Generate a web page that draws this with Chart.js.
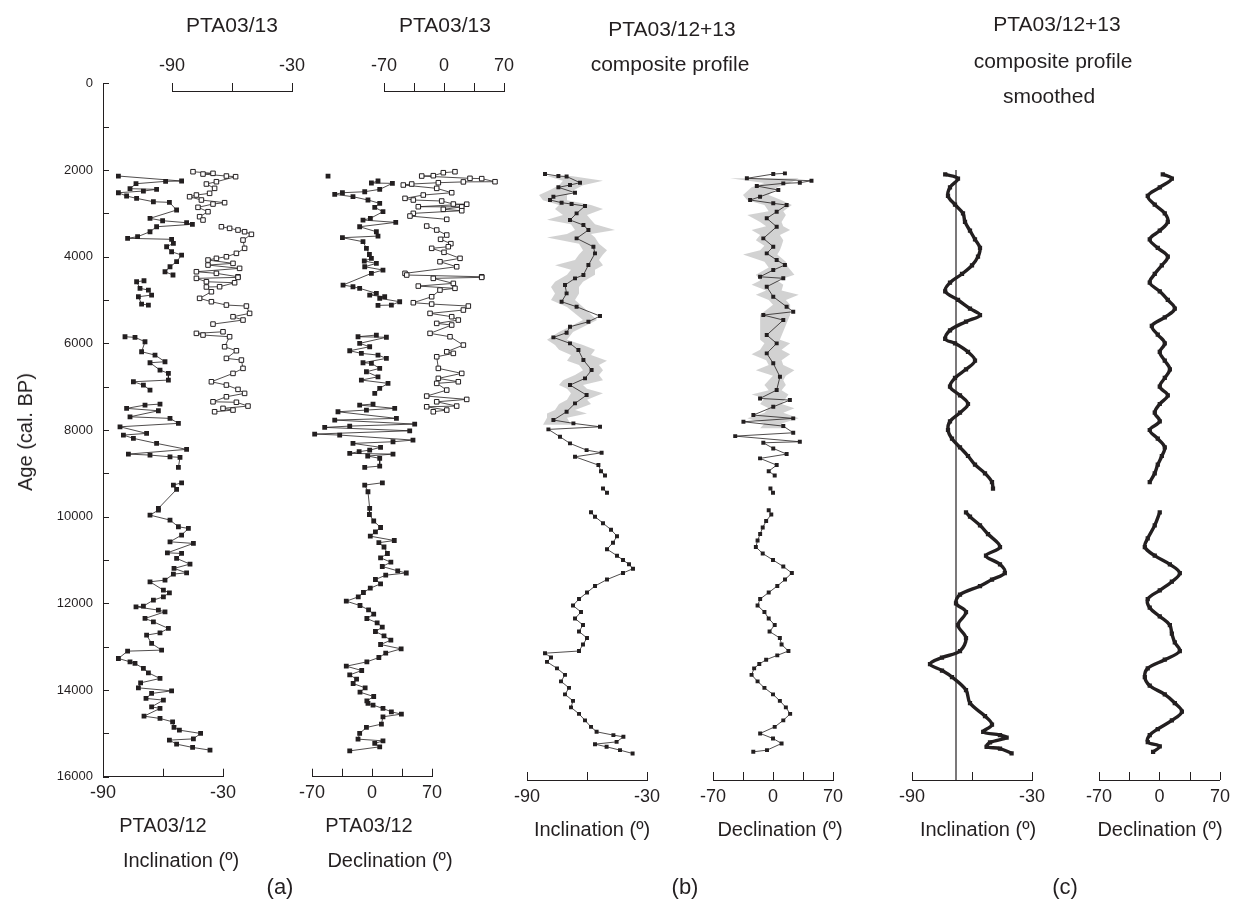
<!DOCTYPE html>
<html>
<head>
<meta charset="utf-8">
<script src="https://cdn.jsdelivr.net/npm/chart.js@4.4.1/dist/chart.umd.min.js"></script>
<style>
body { margin: 0; background: #fff; width: 1236px; height: 903px; position: relative; overflow: hidden;
       font-family: "Liberation Sans", Arial, sans-serif; color: #231f20; }
canvas { position: absolute; left: 0; top: 0; }
.lbl { position: absolute; transform: translate(-50%, -50%); white-space: nowrap; font-size: 20px; line-height: 1; }
.hd { font-size: 21px; }
.pl { font-size: 22px; }
</style>
</head>
<body>
<canvas id="aInc12" width="1236" height="903"></canvas>
<canvas id="aInc13" width="1236" height="903"></canvas>
<canvas id="aDec12" width="1236" height="903"></canvas>
<canvas id="aDec13" width="1236" height="903"></canvas>
<canvas id="bInc" width="1236" height="903"></canvas>
<canvas id="bDec" width="1236" height="903"></canvas>
<canvas id="cInc" width="1236" height="903"></canvas>
<canvas id="cDec" width="1236" height="903"></canvas>

<div class="lbl" style="left:25px;top:432px;transform:translate(-50%,-50%) rotate(-90deg)">Age (cal. BP)</div>
<div class="lbl hd" style="left:232px;top:24px">PTA03/13</div>
<div class="lbl hd" style="left:445px;top:24px">PTA03/13</div>
<div class="lbl hd" style="left:672px;top:28px">PTA03/12+13</div>
<div class="lbl hd" style="left:670px;top:63px">composite profile</div>
<div class="lbl hd" style="left:1057px;top:23px">PTA03/12+13</div>
<div class="lbl hd" style="left:1053px;top:60px">composite profile</div>
<div class="lbl hd" style="left:1049px;top:95px">smoothed</div>
<div class="lbl" style="left:163px;top:825px">PTA03/12</div>
<div class="lbl" style="left:181px;top:860px">Inclination (º)</div>
<div class="lbl" style="left:369px;top:825px">PTA03/12</div>
<div class="lbl" style="left:390px;top:860px">Declination (º)</div>
<div class="lbl" style="left:592px;top:829px">Inclination (º)</div>
<div class="lbl" style="left:780px;top:829px">Declination (º)</div>
<div class="lbl" style="left:978px;top:829px">Inclination (º)</div>
<div class="lbl" style="left:1160px;top:829px">Declination (º)</div>
<div class="lbl pl" style="left:280px;top:887px">(a)</div>
<div class="lbl pl" style="left:685px;top:887px">(b)</div>
<div class="lbl pl" style="left:1065px;top:887px">(c)</div>

<script>
// [age cal. BP, value]  -- null value = gap in the record
const a12Inc = [[2140,-82.3],[2255,-50.7],[2262,-58.7],[2317,-73.5],[2432,-76.5],[2447,-63.2],[2486,-69.8],[2525,-82.3],
  [2601,-78.2],[2655,-73.2],[2733,-64.8],[2747,-56.8],[2924,-53.2],[3116,-66.5],[3171,-60.2],[3217,-48.2],[3254,-45.3],
  [3310,-63.2],[3425,-66.5],[3540,-72.7],[3577,-77.7],[3600,-55.7],[3693,-54.8],[3771,-58.2],[3887,-55.7],[3963,-50.7],
  [4117,-53.2],[4233,-56.5],[4348,-59],[4424,-55],[4490,null],[4556,-69.5],[4579,-73.2],[4731,-71.5],[4771,-67.3],
  [4886,-65.7],[4925,-72.3],[5094,-70.7],[5117,-67.3],[5500,null],[5848,-79],[5862,-74],[5963,-69],[6194,-70.7],
  [6271,-64],[6425,-59],[6448,-66.5],[6617,-61.5],[6694,-57.3],[6848,-57.3],[6887,-74.8],[6963,-69.8],[7079,-66.5],
  [7250,null],[7402,-61.5],[7425,-69],[7501,-78.2],[7556,-62.3],[7695,-76.5],[7732,-56.5],[7847,-52.3],[7926,-81.5],
  [8078,-68.2],[8117,-79.8],[8193,-74.8],[8309,-63.2],[8447,-48.2],[8556,-77.3],[8579,-66.5],[8618,-56.5],[8630,-51.5],
  [8863,-52.3],[9050,null],[9218,-50.7],[9271,-54.8],[9371,-53.2],[9809,-62.3],[9848,-62.3],[9964,-66.5],[10079,-56.5],
  [10233,-52.3],[10271,-47.3],[10425,-50.7],[10580,-56.5],[10617,-44.8],[10834,-57.8],[10848,-50.7],[10963,-53.2],
  [11094,-46.5],[11194,-54.5],[11295,-48.2],[11325,-54.8],[11464,-59],[11503,-66.5],[11695,-59.8],[11757,-56.8],
  [11849,-59.8],[11925,-64.8],[12064,-69.8],[12080,-73.5],[12156,-62.3],[12195,-59],[12348,-69],[12426,-64.8],
  [12579,-57.3],[12680,-61.5],[12733,-68.2],[12925,-65.7],[13079,-60.7],[13103,-77.7],[13272,-82.3],[13349,-76.5],
  [13387,-74],[13502,-69.8],[13603,-67.3],[13733,-61.5],[13834,-71.2],[13950,-72.3],[14019,-55.7],[14079,-65.7],
  [14194,-68.5],[14233,-59.8],[14388,-65.7],[14425,-61.5],[14603,-69.5],[14656,-61.5],[14734,-55.2],[14863,-54.5],
  [14926,-51.8],[15002,-41.2],[15127,-44.8],[15156,-56.8],[15249,-53.2],[15325,-45.2],[15387,-36.5]];

const a13Inc = [[2040,-79.5],[2078,-69.5],[2094,-74.5],[2140,-62.8],[2155,-58.2],[2271,-67.8],[2324,-72.8],[2424,-68.7],
  [2539,-71.2],[2578,-77.8],[2617,-81.2],[2693,-75.3],[2755,-63.7],[2786,-69.5],[2862,-77],[2963,-72],[3078,-76.2],
  [3155,-74.5],[3230,null],[3310,-65.3],[3347,-61.2],[3386,-57],[3425,-53.7],[3485,-50.3],[3617,-54.5],[3808,-53.7],
  [3924,-57.8],[4002,-62.8],[4039,-67.8],[4078,-72],[4155,-59.5],[4194,-72],[4270,-56.2],[4348,-77.8],[4385,-67.8],
  [4464,-57],[4478,-57],[4501,-77.8],[4579,-72.8],[4602,-58.7],[4694,-66.2],[4700,-72.8],[4810,-70.3],[4962,-76.2],
  [5040,-70.3],[5117,-62.8],[5140,-52.8],[5309,-51.2],[5386,-59.5],[5463,-54.5],[5556,-69.5],[5650,null],[5733,-64.5],
  [5770,-77.8],[5809,-74.5],[5848,-61.2],[6079,-63.7],[6171,-57.8],[6347,-62.8],[6386,-55.3],[6578,-54.5],[6694,-59.5],
  [6887,-70.3],[6963,-62.8],[7063,-57],[7155,-53.7],[7233,-62.8],[7349,-69.5],[7360,-57.8],[7448,-52],[7501,-64.5],
  [7540,-59.5],[7579,-68.7]];

const a12Dec = [[2140,-51.3],[2190,null],[2255,7],[2300,-0.7],[2309,23.8],[2447,9],[2502,-8.5],[2525,-34.5],[2562,-43.5],
  [2617,-22.2],[2693,-4.7],[2770,9],[2862,3.2],[2963,12.8],[3116,-1.9],[3155,-10.5],[3209,27.7],[3310,-14.4],[3425,5.1],
  [3525,7],[3563,-34.5],[3655,-10.5],[3808,-6.5],[3950,-3],[4039,-0.7],[4100,-9],[4155,5.1],[4233,-8.5],[4309,12.8],
  [4385,-0.7],[4655,-33.8],[4694,-22.2],[4731,-14.4],[4847,5.1],[4886,-2.7],[4925,14.8],[4962,9],[5040,32.3],
  [5117,22.6],[5125,7],[5450,null],[5809,5.1],[5848,-16.3],[5860,16.8],[6001,-14.4],[6079,-2.7],[6171,-26],[6232,-12.4],
  [6271,7],[6347,16.8],[6448,-10.5],[6462,-0.7],[6578,9],[6656,-6.5],[6772,7],[6848,-12.4],[6924,18.7],[7039,9],
  [7155,3.2],[7280,null],[7402,1.2],[7425,-14.4],[7501,26.5],[7540,-6.5],[7579,-39.7],[7732,28.5],[7771,-43.5],
  [7863,49.8],[7910,-26],[7940,-55.2],[8018,44],[8094,-66.9],[8117,-37.7],[8233,47.8],[8271,24.5],[8309,-22.2],
  [8400,10],[8464,-2.7],[8500,-15],[8540,-26],[8556,24.5],[8600,-5],[8655,9],[8833,9],[8863,-8.5],[9050,null],
  [9218,12.1],[9271,-8.5],[9425,-4.7],[9809,-2.7],[9950,-3],[10100,2],[10250,10],[10350,4],[10450,-2],[10550,26],
  [10600,8],[10700,14],[10850,18],[10950,10],[11050,22],[11150,12],[11250,30],[11300,40],[11350,16],[11450,4],
  [11550,10],[11650,-2],[11750,-10],[11850,-16],[11950,-30],[12050,-14],[12150,-4],[12250,2],[12350,-6],[12450,6],
  [12550,12],[12650,4],[12750,14],[12850,22],[12950,10],[13050,34],[13150,16],[13250,8],[13350,-6],[13450,-30],
  [13550,-12],[13650,-26],[13750,-18],[13850,-22],[13950,-8],[14050,-14],[14150,2],[14250,-6],[14309,-4.7],[14348,1.2],
  [14425,12.8],[14503,22.6],[14556,34.3],[14618,12.8],[14787,11],[14864,-6.5],[15002,-14.4],[15133,-16.3],[15173,12.8],
  [15233,3.2],[15311,9],[15404,-26]];

const a13Dec = [[2040,12.8],[2063,-0.8],[2132,-12.5],[2140,-26],[2193,30.3],[2200,44],[2271,59.5],[2275,22.6],[2294,-6.6],
  [2324,-37.7],[2347,-47.5],[2424,-8.5],[2525,9],[2578,-24.2],[2655,-45.5],[2693,-35.8],[2716,-2.7],[2786,10.9],
  [2790,26.5],[2848,-30],[2852,20.7],[2908,-0.8],[2940,20.7],[3001,-35.8],[3063,-39.7],[3139,3.2],[3220,null],
  [3294,-20.2],[3386,-8.5],[3501,3.2],[3600,-4],[3700,8],[3771,5],[3808,-14.4],[3900,0],[4039,18.7],[4117,-4.7],
  [4233,14.8],[4385,-45.5],[4424,-43.5],[4464,44],[4478,44],[4501,-12.5],[4617,10.9],[4679,-30],[4731,12.8],
  [4771,-4.7],[4925,-14.4],[5063,-35.8],[5094,-14.4],[5140,28.4],[5232,22.6],[5309,-16.3],[5386,9],[5463,16.7],
  [5540,-8.5],[5578,9],[5770,-16.3],[5848,7],[6040,22.6],[6194,3.2],[6232,10.9],[6310,-8.5],[6578,-6.6],[6694,20.7],
  [6809,-6.6],[6887,16.7],[6924,-8.5],[7079,3.2],[7217,-20.2],[7294,26.5],[7349,-8.5],[7448,14.8],[7464,-20.2],
  [7540,3.2],[7579,-12.5]];

const compInc = [[2094,-81],[2140,-74.3],[2150,-70.2],[2294,-63.5],[2347,-68.5],[2401,-74.3],[2525,-66],[2617,-76.8],
  [2693,-78.5],[2755,-72.7],[2786,-67.7],[2832,-61],[3001,-65.2],[3155,-68.5],[3271,-61.8],[3386,-59.3],[3578,-65.2],
  [3771,-56.8],[3924,-56],[4194,-59.3],[4424,-61.8],[4501,-66],[4655,-71],[4847,-70.2],[5040,-72.7],[5156,-65.2],
  [5371,-53.5],[5502,-59.3],[5617,-68.5],[5756,-70.2],[5863,-76.8],[6001,-68.5],[6156,-64.3],[6386,-61.8],[6617,-57.7],
  [6809,-61],[6963,-68.5],[7194,-60.2],[7386,-66],[7579,-70.2],[7771,-76.8],[7847,-66.8],[7926,-53.5],[7986,-79.3],
  [8156,-73.5],[8309,-68.5],[8464,-60.2],[8526,-52.7],[8618,-66],[8810,-54.3],[8950,-53],[9050,-51],[9200,null],
  [9350,-52],[9450,-50],[9650,null],[9900,-58],[10000,-56],[10150,-52],[10300,-48],[10450,-45],[10600,-47],[10750,-50],
  [10900,-45],[11000,-42],[11100,-39],[11200,-37],[11300,-42],[11450,-50],[11600,-56],[11750,-60],[11900,-64],
  [12050,-67],[12200,-63],[12350,-66],[12500,-62],[12650,-64],[12800,-60],[12950,-62],[13100,-64],[13150,-81],
  [13250,-78],[13350,-80],[13500,-75],[13650,-71],[13800,-73],[13950,-69],[14100,-71],[14250,-67],[14400,-68],
  [14550,-64],[14700,-61],[14850,-58],[14964,-55.2],[15041,-46.8],[15080,-41.8],[15196,-45.2],[15249,-56],
  [15311,-50.2],[15387,-43.5],[15464,-37.2]];

const compDec = [[2078,13.9],[2094,0.3],[2193,-30.5],[2248,44.9],[2294,31.3],[2309,12],[2370,-18.9],[2463,6.2],
  [2617,-15.1],[2693,-26.7],[2770,0.3],[2809,15.9],[2963,4.3],[3116,-7.3],[3310,4.3],[3578,-11.3],[3771,0.3],
  [3924,-7.3],[4078,4.3],[4194,13.9],[4309,0.3],[4464,-15.1],[4500,12],[4694,-7.3],[4925,0.3],[5156,15.9],
  [5271,23.6],[5348,-11.3],[5463,12],[5809,-7.3],[6001,4.3],[6232,-7.3],[6462,0.3],[6772,8.1],[7079,4.3],
  [7271,-15.1],[7310,19.7],[7464,0.3],[7656,-22.9],[7732,23.6],[7810,-34.5],[7910,12],[8064,23.6],[8141,-44.1],
  [8271,31.3],[8295,-11.3],[8425,0.3],[8556,15.9],[8655,-15.1],[8810,4.3],[8950,-5],[9050,2],[9200,null],[9350,-3],
  [9450,0],[9650,null],[9850,-5],[9950,-2],[10100,-8],[10250,-12],[10400,-15],[10550,-18],[10700,-20],[10850,-12],
  [11000,0],[11150,12],[11300,22],[11450,14],[11600,5],[11750,-5],[11900,-15],[12050,-18],[12200,-10],[12350,-5],
  [12500,2],[12650,-4],[12800,8],[12950,10],[13100,18],[13200,5],[13300,-8],[13400,-16],[13500,-22],[13650,-25],
  [13800,-18],[13950,-10],[14100,0],[14250,8],[14400,15],[14550,20],[14700,12],[14850,2],[15002,-15],[15118,0],
  [15233,10],[15387,-7],[15426,-23]];

// grey uncertainty envelope of the composite: [age, low, high]
const compIncBand = [[2140,-80,-68],[2250,-72,-52],[2350,-74,-62],[2450,-78,-66],[2580,-84,-70],[2700,-82,-70],
  [2810,-74,-58],[2900,-76,-52],[3040,-72,-60],[3150,-80,-58],[3250,-68,-56],[3385,-66,-46],[3480,-70,-58],
  [3560,-80,-56],[3700,-64,-54],[3850,-62,-50],[3950,-64,-52],[4080,-66,-54],[4200,-76,-52],[4300,-68,-56],
  [4420,-70,-56],[4580,-76,-62],[4700,-78,-64],[4850,-76,-64],[5000,-78,-66],[5160,-70,-62],[5460,-62,-55],
  [5740,-74,-67],[5920,-80,-70],[6040,-76,-62],[6150,-74,-56],[6270,-68,-58],[6400,-70,-50],[6500,-64,-54],
  [6620,-62,-52],[6730,-66,-54],[6850,-72,-52],[6960,-74,-62],[7050,-70,-60],[7150,-68,-52],[7300,-70,-60],
  [7400,-74,-58],[7540,-76,-66],[7620,-80,-60],[7720,-80,-70],[7880,-82,-68]];
const compDecBand = [[2190,-50,30],[2300,-10,20],[2400,-25,5],[2580,-35,-5],[2700,-30,10],[2810,-10,22],[2950,-5,12],
  [3040,-30,15],[3200,-15,10],[3300,-8,12],[3385,-25,20],[3500,-15,8],[3620,-20,12],[3750,-10,10],[3850,-15,8],
  [3950,-35,5],[4120,-10,15],[4250,-5,18],[4420,-20,25],[4550,-15,5],[4650,-25,12],[4780,-8,10],[4880,-20,30],
  [5000,-5,15],[5110,0,20],[5340,-15,20],[5920,-15,8],[6000,-10,20],[6150,-15,10],[6250,-25,20],[6390,-8,10],
  [6500,-5,12],[6620,-20,25],[6750,0,15],[6850,-5,12],[6960,-10,15],[7080,-5,10],[7180,-25,18],[7270,-10,15],
  [7400,-15,10],[7500,-5,25],[7600,-10,12],[7730,-30,30],[7850,-10,10],[7960,-15,15]];

const smInc = [[2100,-73.4],[2200,-67],[2400,-71],[2600,-72],[2800,-68.5],[3000,-64.5],[3200,-63.5],[3400,-61],
  [3600,-58.5],[3800,-56],[4000,-57],[4200,-60],[4400,-65],[4600,-71],[4800,-73.4],[5000,-67],[5200,-61],[5350,-56],
  [5500,-63],[5700,-71],[5900,-73.4],[6000,-68.5],[6200,-62],[6400,-58.5],[6600,-63],[6800,-68.5],[7000,-71],
  [7200,-66],[7400,-62],[7600,-66],[7800,-71],[8000,-72],[8200,-70],[8400,-66],[8600,-62],[8800,-58.5],[9000,-53.5],
  [9200,-50],[9350,-49.5],[9600,null],[9900,-63],[10000,-61],[10200,-56],[10400,-52],[10700,-46],[10900,-53],
  [11100,-46],[11300,-43.6],[11450,-50],[11600,-56],[11800,-66],[12000,-68],[12200,-63],[12500,-67],[12800,-63],
  [13100,-66],[13250,-75],[13400,-81],[13550,-75],[13700,-70],[14000,-63],[14300,-61],[14600,-53.5],[14800,-50],
  [14963,-54.4],[15040,-46],[15100,-42.7],[15210,-51],[15310,-52.7],[15350,-46],[15462,-40.2]];

const smDec = [[2100,3.8],[2200,14.3],[2400,0.3],[2600,-13.6],[2800,-5.5],[3000,6.1],[3200,9.6],[3400,0.3],
  [3600,-11.3],[3800,-2],[4000,9.6],[4200,2.7],[4400,-5.5],[4600,-11.3],[4800,0.3],[5000,9.6],[5200,17.7],[5400,6.1],
  [5600,-8.9],[5800,-2],[6000,6.1],[6200,0.3],[6400,6.1],[6600,12],[6800,6.1],[7000,0.3],[7200,9.6],[7400,0.3],
  [7600,-5.5],[7800,0.3],[8000,-11.3],[8200,-2],[8400,6.1],[8600,2.7],[8800,-2],[9000,-5.5],[9200,-11.3],[9600,null],
  [9900,0.3],[10200,-5.5],[10500,-13.6],[10700,-17],[10900,-5.5],[11100,12],[11300,23.5],[11500,14.3],[11700,0.3],
  [11900,-13.6],[12100,-11.3],[12300,0.3],[12500,12],[12700,14.3],[12900,17.7],[13100,23.5],[13300,6.1],[13500,-13.6],
  [13700,-17],[13900,-11.3],[14100,6.1],[14300,17.7],[14500,25.9],[14700,14.3],[14900,-2],[15040,-11.3],[15200,-13.6],
  [15300,0.3],[15427,-7.4]];

const gadInc = -68;             // reference line in the smoothed inclination panel
const gadAges = [2000, 16100];

const ageTicks = [0,1000,2000,3000,4000,5000,6000,7000,8000,9000,10000,11000,12000,13000,14000,15000,16000];
const ageLabels = ['0','','2000','','4000','','6000','','8000','','10000','','12000','','14000','','16000'];
const incTicks = [-90, -60, -30];
const incLabels = ['-90', '', '-30'];
const decTicks = [-70, -35, 0, 35, 70];
const decLabels = ['-70', '', '0', '', '70'];

const INK = '#231f20';
const FONT = '"Liberation Sans", Arial, sans-serif';
const Y0 = 83.3, Y16 = 776.7;   // pixel rows of age 0 and 16000
Chart.defaults.font.family = FONT;
Chart.defaults.color = INK;

function ageAt(px) { return (px - Y0) / (Y16 - Y0) * 16000; }
function pts(rows) { return rows.map(r => ({ x: r[1], y: r[0] })); }
function bandPts(rows) {
  const hi = rows.map(r => ({ x: r[2], y: r[0] }));
  const lo = rows.slice().reverse().map(r => ({ x: r[1], y: r[0] }));
  return hi.concat(lo);
}

function filled(rows, r) {
  return { data: pts(rows), showLine: true, borderColor: INK, borderWidth: 0.8, pointStyle: 'rect',
           pointRadius: r || 3.4, pointBackgroundColor: INK, pointBorderColor: INK, pointBorderWidth: 0, order: 1 };
}
function open(rows) {
  return { data: pts(rows), showLine: true, borderColor: INK, borderWidth: 0.8, pointStyle: 'rect',
           pointRadius: 3.2, pointBackgroundColor: '#fff', pointBorderColor: INK, pointBorderWidth: 1, order: 1 };
}
function band(rows) {
  return { data: bandPts(rows), showLine: true, fill: 'shape', backgroundColor: 'rgba(195,195,195,0.75)',
           borderWidth: 0, pointRadius: 0, order: 5 };
}
function smooth(rows) {
  return { data: pts(rows), showLine: true, borderColor: INK, borderWidth: 3.4, tension: 0.35, pointStyle: 'rect',
           pointRadius: 3, pointBackgroundColor: INK, pointBorderWidth: 0, order: 1 };
}

function panel(id, o) {
  const AX = 60, YW = 60;
  const inward = o.pos === 'bottom';
  const ticks = o.kind === 'inc' ? incTicks : decTicks;
  const labels = o.kind === 'inc' ? incLabels : decLabels;
  const tickMarks = {
    id: 'tickMarks',
    afterDraw(chart) {
      const ctx = chart.ctx, xs = chart.scales.x, ys = chart.scales.y;
      ctx.save();
      ctx.strokeStyle = INK;
      ctx.lineWidth = 1;
      ctx.beginPath();
      if (inward) {
        ticks.forEach(v => {
          const px = Math.round(xs.getPixelForValue(v)) + 0.5;
          ctx.moveTo(px, xs.top);
          ctx.lineTo(px, xs.top - 8);
        });
      }
      if (o.yAxis) {
        ageTicks.forEach(v => {
          const py = Math.round(ys.getPixelForValue(v)) + 0.5;
          ctx.moveTo(ys.right, py);
          ctx.lineTo(ys.right + 6, py);
        });
      }
      ctx.stroke();
      ctx.restore();
    }
  };
  return new Chart(document.getElementById(id), {
    type: 'scatter',
    data: { datasets: o.datasets },
    plugins: [tickMarks],
    options: {
      responsive: false,
      animation: false,
      events: [],
      layout: {
        padding: {
          left: o.left - (o.yAxis ? YW : 0),
          right: 1236 - o.right,
          top: inward ? o.top : o.top - AX,
          bottom: inward ? 903 - o.bottom - AX : 903 - o.bottom
        }
      },
      plugins: { legend: { display: false }, tooltip: { enabled: false } },
      scales: {
        x: {
          type: 'linear', position: o.pos, min: ticks[0], max: ticks[ticks.length - 1],
          afterBuildTicks: s => { s.ticks = ticks.map(v => ({ value: v })); },
          afterFit: s => { s.height = AX; },
          ticks: { autoSkip: false, maxRotation: 0, padding: 6, font: { size: 18 }, color: INK,
                   callback: (v, i) => labels[i] },
          grid: { drawOnChartArea: false, drawTicks: !inward, tickLength: 8, color: INK, lineWidth: 1 },
          border: { display: true, color: INK, width: 1 }
        },
        y: {
          type: 'linear', reverse: true, display: !!o.yAxis,
          min: ageAt(o.top), max: ageAt(o.bottom),
          afterBuildTicks: s => { s.ticks = ageTicks.map(v => ({ value: v })); },
          afterFit: s => { s.width = o.yAxis ? YW : 0; },
          ticks: { autoSkip: false, padding: 10, font: { size: 13 }, color: INK, callback: (v, i) => ageLabels[i] },
          grid: { drawOnChartArea: false, drawTicks: false },
          border: { display: true, color: INK, width: 1 }
        }
      }
    }
  });
}

// (a) separate cores
panel('aInc12', { kind: 'inc', pos: 'bottom', yAxis: true, left: 103, right: 223, top: Y0, bottom: Y16,
  datasets: [filled(a12Inc)] });
panel('aInc13', { kind: 'inc', pos: 'top', left: 172, right: 292, top: 91, bottom: Y16,
  datasets: [open(a13Inc)] });
panel('aDec12', { kind: 'dec', pos: 'bottom', left: 312, right: 432, top: Y0, bottom: Y16,
  datasets: [filled(a12Dec)] });
panel('aDec13', { kind: 'dec', pos: 'top', left: 384, right: 504, top: 91, bottom: Y16,
  datasets: [open(a13Dec)] });

// (b) composite profile
panel('bInc', { kind: 'inc', pos: 'bottom', left: 527, right: 647, top: Y0, bottom: 780,
  datasets: [filled(compInc, 2.8), band(compIncBand)] });
panel('bDec', { kind: 'dec', pos: 'bottom', left: 713, right: 833, top: Y0, bottom: 780,
  datasets: [filled(compDec, 2.8), band(compDecBand)] });

// (c) composite profile smoothed
panel('cInc', { kind: 'inc', pos: 'bottom', left: 912, right: 1032, top: Y0, bottom: 780,
  datasets: [smooth(smInc),
    { data: gadAges.map(a => ({ x: gadInc, y: a })), showLine: true, borderColor: INK, borderWidth: 1.2,
      pointRadius: 0, order: 2 }] });
panel('cDec', { kind: 'dec', pos: 'bottom', left: 1099, right: 1220, top: Y0, bottom: 780,
  datasets: [smooth(smDec)] });
</script>
</body>
</html>
